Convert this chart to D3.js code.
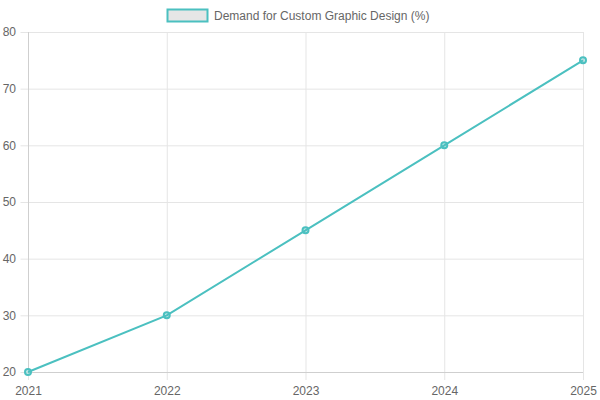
<!DOCTYPE html>
<html>
<head>
<meta charset="utf-8">
<script src="https://cdn.jsdelivr.net/npm/d3@7"></script>
<style>
  body { margin: 0; background: #fff; }
  svg { display: block; font-family: "Liberation Sans", Arial, Helvetica, sans-serif; }
</style>
</head>
<body>
<div id="chart"></div>
<script>
// data
const years = ["2021", "2022", "2023", "2024", "2025"];
const demand = [20, 30, 45, 60, 75];
const yTicks = [20, 30, 40, 50, 60, 70, 80];
const seriesLabel = "Demand for Custom Graphic Design (%)";

const width = 600, height = 400;
const margin = {top: 32, right: 17, bottom: 28, left: 28};
const innerW = width - margin.left - margin.right;
const innerH = height - margin.top - margin.bottom;

const lineColor = "#4bc0c0";
const gridColor = "#e5e5e5";
const textColor = "#666";

const svg = d3.select("#chart").append("svg")
    .attr("width", width)
    .attr("height", height);

// legend
const legend = svg.append("g").attr("class", "legend");
legend.append("rect")
    .attr("x", 167.5).attr("y", 9.5)
    .attr("width", 40).attr("height", 12)
    .attr("fill", "#e6e6e6")
    .attr("stroke", lineColor)
    .attr("stroke-width", 2);
legend.append("text")
    .attr("x", 214).attr("y", 20)
    .attr("font-size", 12)
    .attr("fill", textColor)
    .text(seriesLabel);

const g = svg.append("g")
    .attr("transform", "translate(" + margin.left + "," + margin.top + ")");

// scales
const x = d3.scalePoint().domain(years).range([0, innerW]);
const y = d3.scaleLinear().domain([20, 80]).range([innerH, 0]);

// y grid + ticks
const yAxis = g.append("g")
    .call(d3.axisLeft(y).tickValues(yTicks).tickSize(-innerW - 8).tickPadding(4).tickSizeOuter(0))
    .attr("transform", "translate(-8,0)");
yAxis.select(".domain").remove();
yAxis.selectAll(".tick line").attr("stroke", gridColor).attr("transform", "translate(0.5,0)");
yAxis.selectAll(".tick text").attr("fill", textColor).attr("font-size", 12)
    .attr("font-family", "Liberation Sans, Arial, sans-serif");

// x grid + ticks
const xAxis = g.append("g")
    .attr("transform", "translate(0," + (innerH + 8) + ")")
    .call(d3.axisBottom(x).tickSize(-innerH - 8).tickPadding(6).tickSizeOuter(0));
xAxis.select(".domain").remove();
xAxis.selectAll(".tick line").attr("stroke", gridColor);
xAxis.selectAll(".tick text").attr("fill", textColor).attr("font-size", 12)
    .attr("font-family", "Liberation Sans, Arial, sans-serif");

// axis lines
g.append("line")
    .attr("x1", 0.5).attr("x2", 0.5).attr("y1", 0).attr("y2", innerH)
    .attr("stroke", "#cfcfcf");
g.append("line")
    .attr("x1", 0).attr("x2", innerW).attr("y1", innerH + 0.5).attr("y2", innerH + 0.5)
    .attr("stroke", "#cfcfcf");

// line
const line = d3.line()
    .x((d, i) => x(years[i]))
    .y(d => y(d));

g.append("path")
    .datum(demand)
    .attr("d", line)
    .attr("fill", "none")
    .attr("stroke", lineColor)
    .attr("stroke-width", 2);

// points
g.selectAll(".pt")
    .data(demand)
    .enter()
    .append("circle")
    .attr("class", "pt")
    .attr("cx", (d, i) => x(years[i]))
    .attr("cy", d => y(d))
    .attr("r", 3)
    .attr("fill", "rgba(75,192,192,0.3)")
    .attr("stroke", lineColor)
    .attr("stroke-width", 2);
</script>
</body>
</html>
